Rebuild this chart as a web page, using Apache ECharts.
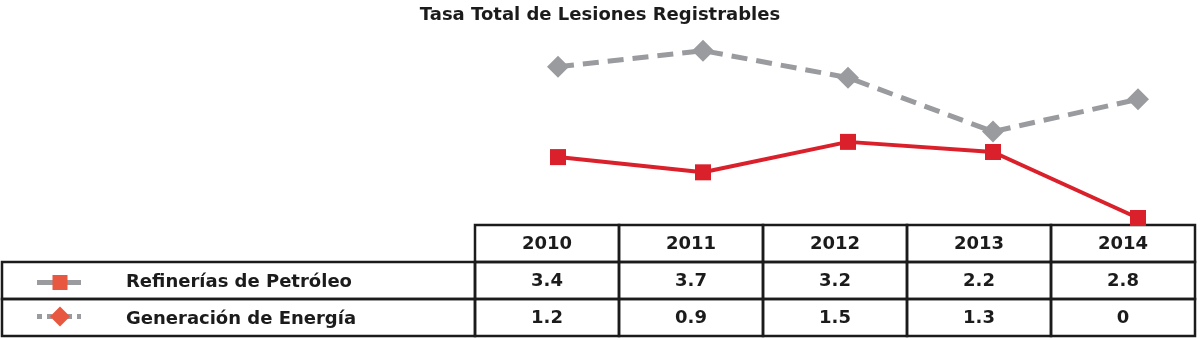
<!DOCTYPE html>
<html><head><meta charset="utf-8">
<script src="https://cdn.jsdelivr.net/npm/echarts@6/dist/echarts.min.js"></script>
<style>html,body{margin:0;padding:0;background:#fff}#c{width:1200px;height:340px}</style>
</head><body><div id="c"></div>
<script>
const titleText = 'Tasa Total de Lesiones Registrables';
const years = ['2010', '2011', '2012', '2013', '2014'];
const seriesNames = ['Refinerías de Petróleo', 'Generación de Energía'];
const refinerias = [3.4, 3.7, 3.2, 2.2, 2.8];
const generacion = [1.2, 0.9, 1.5, 1.3, 0];
const tableRows = ['header', 'refinerias', 'generacion'];

const FONT = '"DejaVu Sans"';
const INK = '#1b1b1b';
const GRAY = '#9a9b9f';
const RED = '#d9202b';
const ICON = '#e8573f';
const BORDER = 2.5;

const cellData = [];
years.forEach((y, i) => {
  cellData.push([i, 0, y]);
  cellData.push([i, 1, String(refinerias[i])]);
  cellData.push([i, 2, String(generacion[i])]);
});
const labelData = [[0, 1, seriesNames[0], 'solid'], [0, 2, seriesNames[1], 'dotted']];

function renderCell(params, api) {
  const d = cellData[params.dataIndex];
  const c = api.coord([d[0], d[1]]);
  const s = api.size([1, 1]);
  return {
    type: 'group', children: [
      { type: 'rect', shape: { x: c[0] - s[0] / 2, y: c[1] - s[1] / 2, width: s[0], height: s[1] },
        style: { fill: 'none', stroke: INK, lineWidth: BORDER } },
      { type: 'text', x: c[0], y: c[1] + 1,
        style: { text: d[2], fill: INK, fontSize: 18, fontFamily: FONT, fontWeight: 'bold', align: 'center', verticalAlign: 'middle' } }
    ]
  };
}

function renderLabel(params, api) {
  const d = labelData[params.dataIndex];
  const c = api.coord([d[0], d[1]]);
  const s = api.size([1, 1]);
  const x0 = c[0] - s[0] / 2;
  const cy = c[1];
  const ix = x0 + 58;
  const children = [
    { type: 'rect', shape: { x: x0, y: cy - s[1] / 2, width: s[0], height: s[1] },
      style: { fill: 'none', stroke: INK, lineWidth: BORDER } }
  ];
  if (d[3] === 'solid') {
    children.push({ type: 'line', shape: { x1: x0 + 35, y1: cy + 2, x2: x0 + 79, y2: cy + 2 },
      style: { stroke: GRAY, lineWidth: 5 } });
    children.push({ type: 'rect', shape: { x: ix - 7.5, y: cy + 2 - 7.5, width: 15, height: 15 },
      style: { fill: ICON } });
  } else {
    children.push({ type: 'line', shape: { x1: x0 + 35, y1: cy - 1, x2: x0 + 79, y2: cy - 1 },
      style: { stroke: GRAY, lineWidth: 5, lineDash: [5, 5] } });
    children.push({ type: 'polygon', shape: { points: [[ix, cy - 11], [ix + 10, cy - 1], [ix, cy + 9], [ix - 10, cy - 1]] },
      style: { fill: ICON } });
  }
  children.push({ type: 'text', x: x0 + 124, y: cy + 2,
    style: { text: d[2], fill: INK, fontSize: 18, fontFamily: FONT, fontWeight: 'bold', align: 'left', verticalAlign: 'middle' } });
  return { type: 'group', children };
}

const chart = echarts.init(document.getElementById('c'), null, { renderer: 'canvas' });
chart.setOption({
  animation: false,
  backgroundColor: '#fff',
  title: { text: titleText, left: 'center', top: 1,
    textStyle: { fontSize: 18, fontFamily: FONT, fontWeight: 'bold', color: INK } },
  grid: [
    { left: 558, right: 62, top: 15, bottom: 122 },
    { left: 475, right: 5, top: 225, bottom: 4 },
    { left: 2, right: 725, top: 225, bottom: 4 }
  ],
  xAxis: [
    { type: 'category', data: years, gridIndex: 0, boundaryGap: false, show: false },
    { type: 'category', data: years, gridIndex: 1, boundaryGap: true, show: false },
    { type: 'category', data: [''], gridIndex: 2, boundaryGap: true, show: false }
  ],
  yAxis: [
    { type: 'value', gridIndex: 0, min: 0, max: 4, show: false },
    { type: 'value', gridIndex: 0, min: 0.6, max: 4.36, show: false },
    { type: 'category', data: tableRows, gridIndex: 1, inverse: true, show: false },
    { type: 'category', data: tableRows, gridIndex: 2, inverse: true, show: false }
  ],
  series: [
    { type: 'custom', xAxisIndex: 1, yAxisIndex: 2, renderItem: renderCell, data: cellData, z: 1, silent: true },
    { type: 'custom', xAxisIndex: 2, yAxisIndex: 3, renderItem: renderLabel, data: labelData, z: 1, silent: true },
    { name: seriesNames[0], type: 'line', xAxisIndex: 0, yAxisIndex: 1, data: refinerias,
      symbol: 'diamond', symbolSize: [22, 22], z: 5,
      lineStyle: { color: GRAY, width: 5, type: [16, 9] }, itemStyle: { color: GRAY } },
    { name: seriesNames[1], type: 'line', xAxisIndex: 0, yAxisIndex: 0, data: generacion,
      symbol: 'rect', symbolSize: 16, z: 6,
      lineStyle: { color: RED, width: 4 }, itemStyle: { color: RED } }
  ]
});
</script>
</body></html>
